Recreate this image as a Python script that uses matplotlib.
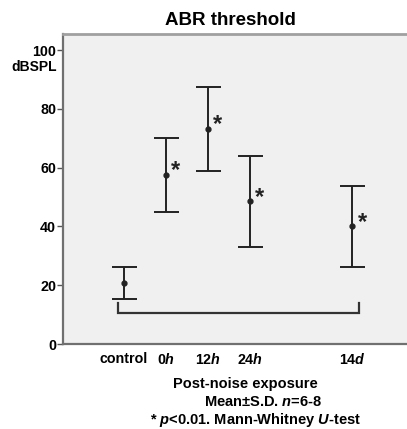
import matplotlib
matplotlib.use("Agg")
import matplotlib.pyplot as plt

plt.rcParams['font.family'] = ['Liberation Sans', 'DejaVu Sans']
plt.rcParams['mathtext.fontset'] = 'custom'
plt.rcParams['mathtext.it'] = 'Liberation Sans:italic:bold'
plt.rcParams['mathtext.rm'] = 'Liberation Sans:bold'
plt.rcParams['mathtext.bf'] = 'Liberation Sans:bold'

categories = ['control', r'0$h$', r'12$h$', r'24$h$', r'14$d$']
positions = [0, 1, 2, 3, 5.42]
means = [20.8, 57.5, 73.2, 48.5, 40.0]
sds = [5.5, 12.5, 14.3, 15.6, 13.8]
significant = [False, True, True, True, True]
yticks = [0, 20, 40, 60, 80, 100]

fig = plt.figure(figsize=(4.07, 4.29), dpi=100)
ax = fig.add_axes([0.155, 0.198, 0.845, 0.723])
ax.set_facecolor('#f0f0f0')

ax.errorbar(positions, means, yerr=sds, fmt='o', color='#222222', ms=3.5,
            capsize=9, elinewidth=1.4, capthick=1.4, zorder=3)

for x, m, sig in zip(positions, means, significant):
    if sig:
        ax.text(x + 0.23, m + 1.4, '*', fontsize=17, fontweight='bold',
                ha='center', va='center', color='#222222')

# bracket
bx0, bx1 = positions[0] - 0.12, positions[-1] + 0.16
ax.plot([bx0, bx0, bx1, bx1], [13.8, 10.6, 10.6, 13.8], color='#333333', lw=1.6,
        solid_joinstyle='miter')

ax.set_xlim(-1.43, 6.71)
ax.set_ylim(0, 105.5)
ax.set_xticks(positions)
ax.set_xticklabels(categories, fontsize=10.3, fontweight='bold')
ax.tick_params(axis='x', length=0, pad=6)
ax.set_yticks(yticks)
ax.set_yticklabels([str(v) for v in yticks], fontsize=10.3, fontweight='bold')
ax.tick_params(axis='y', length=4, width=1, color='#555555', pad=1)

ax.spines['right'].set_visible(False)
ax.spines['top'].set_color('#a0a0a0')
ax.spines['top'].set_linewidth(2)
ax.spines['left'].set_color('#707070')
ax.spines['left'].set_linewidth(1.6)
ax.spines['bottom'].set_color('#707070')
ax.spines['bottom'].set_linewidth(1.6)

fig.text(0.565, 0.953, 'ABR threshold', ha='center', va='center', fontsize=13.5,
         fontweight='bold')
fig.text(0.14, 0.843, 'dBSPL', ha='right', va='center', fontsize=10, fontweight='bold')

fig.text(0.602, 0.105, 'Post-noise exposure', ha='center', va='center', fontsize=10.5,
         fontweight='bold')
fig.text(0.646, 0.063, r'Mean$\pm$S.D. $n$=6-8', ha='center', va='center', fontsize=10.5,
         fontweight='bold')
fig.text(0.627, 0.021, r'* $p$<0.01. Mann-Whitney $U$-test', ha='center', va='center',
         fontsize=10.5, fontweight='bold')

fig.savefig('out.png', dpi=100)
